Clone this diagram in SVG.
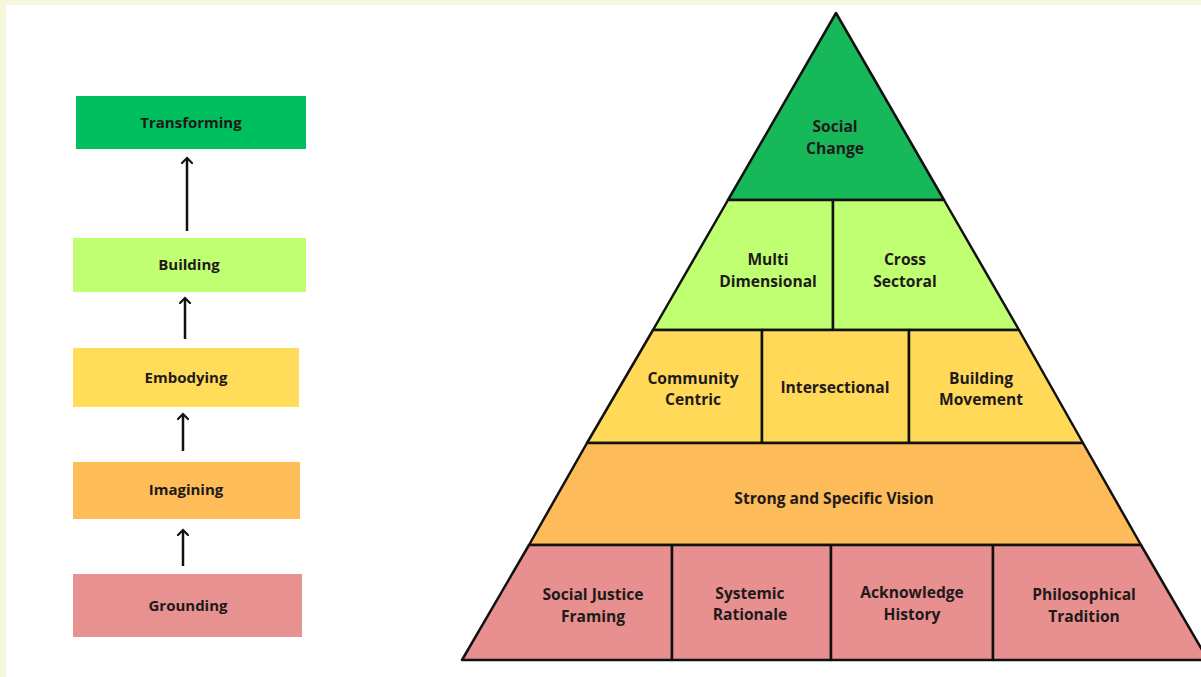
<svg xmlns="http://www.w3.org/2000/svg" width="1201" height="677" viewBox="0 0 1201 677">
<defs>
<marker id="arr" viewBox="0 0 12 12" refX="10" refY="6" markerWidth="12" markerHeight="12" markerUnits="userSpaceOnUse" orient="auto">
<path d="M5,1 L10,6 L5,11" fill="none" stroke="#111" stroke-width="2.2" stroke-linecap="round"/>
</marker>
</defs>
<style>
text{font-family:"Open Sans","Noto Sans","Liberation Sans",sans-serif;font-weight:700;font-size:15px;fill:#1e1a1a;text-anchor:middle}
.py text{font-size:15.6px}
.sec{stroke:#111;stroke-width:2.5;stroke-linejoin:round}
.conn{stroke:#111;stroke-width:2.5;fill:none}
</style>
<rect x="0" y="0" width="1201" height="677" fill="#f6f7dc"/>
<rect x="6" y="5" width="1195" height="672" fill="#ffffff"/>

<g id="transforming"><rect x="76" y="96" width="230" height="53" fill="#00bf5e"/><text x="191" y="128">Transforming</text></g>
<g id="building"><rect x="73" y="238" width="233" height="54" fill="#c1ff72"/><text x="189" y="270">Building</text></g>
<g id="embodying"><rect x="73" y="348" width="226" height="59" fill="#ffdc59"/><text x="186" y="383">Embodying</text></g>
<g id="imagining"><rect x="73" y="462" width="227" height="57" fill="#ffbd59"/><text x="186" y="495">Imagining</text></g>
<g id="grounding"><rect x="73" y="574" width="229" height="63" fill="#e79191"/><text x="188" y="611">Grounding</text></g>

<g id="connectors">
<line class="conn" x1="187" y1="231" x2="187" y2="158" marker-end="url(#arr)"/>
<line class="conn" x1="185" y1="339" x2="185" y2="298" marker-end="url(#arr)"/>
<line class="conn" x1="183" y1="451" x2="183" y2="414" marker-end="url(#arr)"/>
<line class="conn" x1="183" y1="566" x2="183" y2="530" marker-end="url(#arr)"/>
</g>

<g class="py">
<g id="social-change"><polygon class="sec" points="836,13 944,200 728,200" fill="#17b85a"/><text x="835" y="132">Social</text><text x="835" y="154">Change</text></g>
<g id="multi-dimensional"><polygon class="sec" points="728,200 833,200 833,330 653,330" fill="#c1ff72"/><text x="768" y="265">Multi</text><text x="768" y="287">Dimensional</text></g>
<g id="cross-sectoral"><polygon class="sec" points="833,200 944,200 1019,330 833,330" fill="#c1ff72"/><text x="905" y="265">Cross</text><text x="905" y="287">Sectoral</text></g>
<g id="community-centric"><polygon class="sec" points="653,330 762,330 762,443 587,443" fill="#ffd957"/><text x="693" y="384">Community</text><text x="693" y="405">Centric</text></g>
<g id="intersectional"><polygon class="sec" points="762,330 909,330 909,443 762,443" fill="#ffd957"/><text x="835" y="393">Intersectional</text></g>
<g id="building-movement"><polygon class="sec" points="909,330 1019,330 1083,443 909,443" fill="#ffd957"/><text x="981" y="384">Building</text><text x="981" y="405">Movement</text></g>
<g id="vision"><polygon class="sec" points="587,443 1083,443 1141,545 529,545" fill="#fdbb59"/><text x="834" y="504">Strong and Specific Vision</text></g>
<g id="sj-framing"><polygon class="sec" points="529,545 672,545 672,660 462,660" fill="#e88f8f"/><text x="593" y="600">Social Justice</text><text x="593" y="622">Framing</text></g>
<g id="systemic-rationale"><polygon class="sec" points="672,545 831,545 831,660 672,660" fill="#e88f8f"/><text x="750" y="599">Systemic</text><text x="750" y="620">Rationale</text></g>
<g id="acknowledge-history"><polygon class="sec" points="831,545 993,545 993,660 831,660" fill="#e88f8f"/><text x="912" y="598">Acknowledge</text><text x="912" y="620">History</text></g>
<g id="philosophical-tradition"><polygon class="sec" points="993,545 1141,545 1208,660 993,660" fill="#e88f8f"/><text x="1084" y="600">Philosophical</text><text x="1084" y="622">Tradition</text></g>
</g>
</svg>
